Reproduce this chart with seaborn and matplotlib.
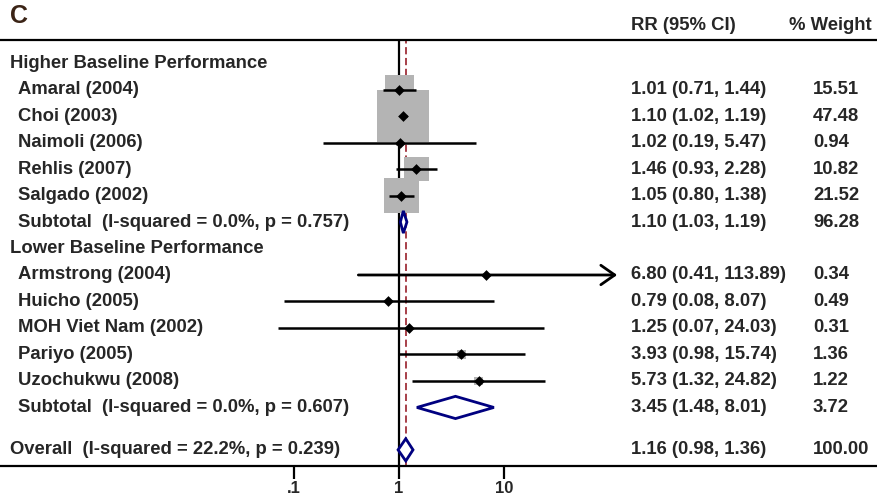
import matplotlib
matplotlib.use('Agg')
import matplotlib.pyplot as plt
import matplotlib.transforms as mtransforms
import numpy as np
import pandas as pd
import seaborn as sns

# Study-level data (RR with 95% CI and % weight)
high_studies = ["Amaral (2004)", "Choi (2003)", "Naimoli (2006)", "Rehlis (2007)", "Salgado (2002)"]
high_rr = [1.01, 1.10, 1.02, 1.46, 1.05]
high_lo = [0.71, 1.02, 0.19, 0.93, 0.80]
high_hi = [1.44, 1.19, 5.47, 2.28, 1.38]
high_wt = [15.51, 47.48, 0.94, 10.82, 21.52]

low_studies = ["Armstrong (2004)", "Huicho (2005)", "MOH Viet Nam (2002)", "Pariyo (2005)", "Uzochukwu (2008)"]
low_rr = [6.80, 0.79, 1.25, 3.93, 5.73]
low_lo = [0.41, 0.08, 0.07, 0.98, 1.32]
low_hi = [113.89, 8.07, 24.03, 15.74, 24.82]
low_wt = [0.34, 0.49, 0.31, 1.36, 1.22]

# Pooled estimates: rr, lo, hi, weight
high_sub = [1.10, 1.03, 1.19, 96.28]
low_sub = [3.45, 1.48, 8.01, 3.72]
overall = [1.16, 0.98, 1.36, 100.00]

high_label = "Subtotal  (I-squared = 0.0%, p = 0.757)"
low_label = "Subtotal  (I-squared = 0.0%, p = 0.607)"
overall_label = "Overall  (I-squared = 22.2%, p = 0.239)"

xticks = [0.1, 1, 10]
xtick_labels = [".1", "1", "10"]

# rows (top to bottom)
high_rows = [1, 2, 3, 4, 5]
low_rows = [8, 9, 10, 11, 12]
df = pd.DataFrame({
    'study': high_studies + low_studies,
    'rr': high_rr + low_rr,
    'lo': high_lo + low_lo,
    'hi': high_hi + low_hi,
    'wt': high_wt + low_wt,
    'row': high_rows + low_rows,
})
pooled = pd.DataFrame([high_sub, low_sub, overall], columns=['rr', 'lo', 'hi', 'wt'])
pooled['label'] = [high_label, low_label, overall_label]
pooled['row'] = [6, 13, 14.6]

sns.set_style('white')
plt.rcParams['font.family'] = ['Liberation Sans', 'DejaVu Sans']
plt.rcParams['font.weight'] = 'bold'

fig = plt.figure(figsize=(8.78, 4.99), dpi=100)
ax = fig.add_axes([0, 33 / 499, 1, 426 / 499])
ax.set_xscale('log')
ax.set_xlim(10 ** (-399 / 105), 10 ** (479 / 105))
ax.set_ylim(15.21, -0.87)

fs = 13.3
navy = '#000080'

# reference lines
ax.axvline(1, color='black', lw=1.6, zorder=1)
ax.axvline(overall[0], color='#a0303a', lw=1.3, ls=(0, (4, 2)), zorder=1)

# weight boxes (area proportional to weight)
k = 29.5
wmin, wmax = df['wt'].min(), df['wt'].max()
sns.scatterplot(data=df, x='rr', y='row', size='wt', sizes=(k * wmin, k * wmax),
                size_norm=(wmin, wmax), marker='s', color='#b4b4b4', linewidth=0,
                legend=False, ax=ax, zorder=2)

# confidence intervals
normal = df[df['hi'] < 100]
ax.hlines(normal['row'], normal['lo'], normal['hi'], color='black', lw=1.8, zorder=3)
for _, r in df[df['hi'] >= 100].iterrows():
    ax.annotate('', xy=(r['hi'] * 1.05, r['row']), xytext=(r['lo'], r['row']),
                arrowprops=dict(arrowstyle='->, head_length=0.5, head_width=0.35',
                                mutation_scale=20, lw=2.0, color='black',
                                shrinkA=0, shrinkB=0), zorder=3)

# point estimates
sns.scatterplot(data=df, x='rr', y='row', marker='D', color='black', s=30,
                linewidth=0, legend=False, ax=ax, zorder=4)

# pooled diamonds
h = 0.42
for _, r in pooled.iterrows():
    ax.fill([r['lo'], r['rr'], r['hi'], r['rr']],
            [r['row'], r['row'] - h, r['row'], r['row'] + h],
            facecolor='white', edgecolor=navy, lw=2.0, zorder=5)

# text columns
tr = mtransforms.blended_transform_factory(ax.transAxes, ax.transData)
x_head, x_study, x_rr, x_wt = 10 / 878, 18 / 878, 631 / 878, 813 / 878
ax.text(x_head, 0, "Higher Baseline Performance", transform=tr, va='center', fontsize=fs)
ax.text(x_head, 7, "Lower Baseline Performance", transform=tr, va='center', fontsize=fs)
for _, r in df.iterrows():
    ax.text(x_study, r['row'], r['study'], transform=tr, va='center', fontsize=fs)
    ax.text(x_rr, r['row'], f"{r['rr']:.2f} ({r['lo']:.2f}, {r['hi']:.2f})",
            transform=tr, va='center', fontsize=fs)
    ax.text(x_wt, r['row'], f"{r['wt']:.2f}", transform=tr, va='center', fontsize=fs)
for i, r in pooled.iterrows():
    xl = x_head if i == 2 else x_study
    ax.text(xl, r['row'], r['label'], transform=tr, va='center', fontsize=fs)
    ax.text(x_rr, r['row'], f"{r['rr']:.2f} ({r['lo']:.2f}, {r['hi']:.2f})",
            transform=tr, va='center', fontsize=fs)
    ax.text(x_wt, r['row'], f"{r['wt']:.2f}", transform=tr, va='center', fontsize=fs)

fig.text(x_rr, 1 - 25 / 499, "RR (95% CI)", va='center', fontsize=fs)
fig.text(789 / 878, 1 - 25 / 499, "% Weight", va='center', fontsize=fs)
fig.text(10 / 878, 1 - 16 / 499, "C", va='center', fontsize=18, color='#3b2416')

# axes styling
for s in ['left', 'right']:
    ax.spines[s].set_visible(False)
for s in ['top', 'bottom']:
    ax.spines[s].set_visible(True)
    ax.spines[s].set_linewidth(1.6)
    ax.spines[s].set_color('black')
ax.set_yticks([])
ax.set_xlabel('')
ax.set_ylabel('')
ax.set_xticks(xticks)
ax.set_xticklabels(xtick_labels, fontsize=12, fontweight='bold')
ax.xaxis.set_minor_locator(matplotlib.ticker.NullLocator())
ax.tick_params(axis='x', bottom=True, length=9, width=1.6, pad=2, color='black')

fig.savefig('out.png', dpi=100)
